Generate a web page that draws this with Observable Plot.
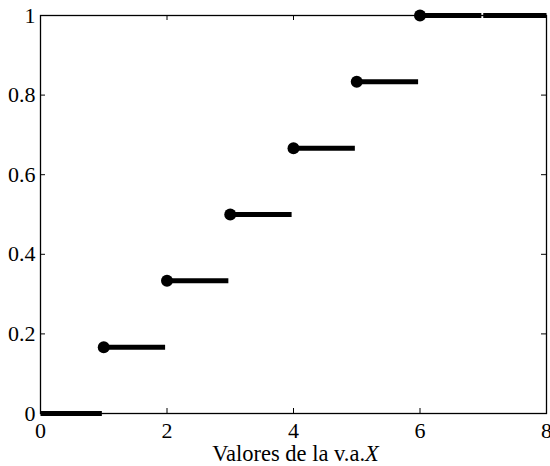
<!DOCTYPE html>
<html>
<head>
<meta charset="utf-8">
<script src="https://cdn.jsdelivr.net/npm/d3@7"></script>
<script src="https://cdn.jsdelivr.net/npm/@observablehq/plot@0.6"></script>
<style>
  html, body { margin: 0; padding: 0; background: #fff; }
  svg text, svg tspan { font-family: "Liberation Serif", "DejaVu Serif", serif !important; font-variant: normal !important; }
</style>
</head>
<body>
<div id="chart"></div>
<script>
// Step segments of the CDF
const segStart = [0, 1, 2, 3, 4, 5, 6, 7];
const segEnd   = [0.97, 1.97, 2.97, 3.97, 4.97, 5.97, 6.97, 8];
const segValue = [0, 0.1667, 0.3333, 0.5, 0.6667, 0.8333, 1, 1];
// Closed points
const dotX = [1, 2, 3, 4, 5, 6];
const dotY = [0.1667, 0.3333, 0.5, 0.6667, 0.8333, 1];
// Ticks
const xTicks = [0, 2, 4, 6, 8];
const xTickLabels = ["0", "2", "4", "6", "8"];
const yTicks = [0, 0.2, 0.4, 0.6, 0.8, 1];
const yTickLabels = ["0", "0.2", "0.4", "0.6", "0.8", "1"];
const xLabelMain = "Valores de la v.a.";
const xLabelVar = "X";

const segments = segStart.map((s, i) => ({x1: s, x2: segEnd[i], y: segValue[i]}));
const dots = dotX.map((x, i) => ({x, y: dotY[i]}));
const xTickData = xTicks.map((v, i) => ({v, label: xTickLabels[i]}));
const yTickData = yTicks.map((v, i) => ({v, label: yTickLabels[i]}));

const W = 550, H = 466;
const mL = 40, mR = 4, mT = 15, mB = 53;
const innerH = H - mT - mB, innerW = W - mL - mR;
const tickLen = 5;
const FONT = "Liberation Serif, serif";

const chart = Plot.plot({
  width: W,
  height: H,
  marginLeft: mL,
  marginRight: mR,
  marginTop: mT,
  marginBottom: mB,
  style: {fontFamily: FONT, fontSize: "22px", color: "#000", background: "#fff", overflow: "visible"},
  x: {domain: [0, 8], axis: null},
  y: {domain: [0, 1], axis: null},
  marks: [
    Plot.frame({stroke: "#000", strokeWidth: 1.3}),
    // inward ticks bottom/top
    Plot.tickX(xTicks.slice(1, -1), {stroke: "#000", strokeWidth: 1, insetTop: innerH - tickLen}),
    Plot.tickX(xTicks.slice(1, -1), {stroke: "#000", strokeWidth: 1, insetBottom: innerH - tickLen}),
    // inward ticks left/right
    Plot.tickY(yTicks.slice(1, -1), {stroke: "#000", strokeWidth: 1, insetRight: innerW - tickLen}),
    Plot.tickY(yTicks.slice(1, -1), {stroke: "#000", strokeWidth: 1, insetLeft: innerW - tickLen}),
    // tick labels
    Plot.text(xTickData, {x: "v", text: "label", frameAnchor: "bottom", dy: 17, lineAnchor: "middle",
      fontSize: 22, fontFamily: FONT, fill: "#000"}),
    Plot.text(yTickData, {y: "v", text: "label", frameAnchor: "left", dx: -5, textAnchor: "end",
      fontSize: 22, fontFamily: FONT, fill: "#000"}),
    Plot.link(segments, {x1: "x1", x2: "x2", y1: "y", y2: "y", stroke: "#000", strokeWidth: 5, strokeLinecap: "butt"}),
    Plot.dot(dots, {x: "x", y: "y", r: 6, fill: "#000", stroke: "none"}),
    Plot.text([xLabelMain], {frameAnchor: "bottom", dy: 40, dx: 2, fontSize: 22.5, fontFamily: FONT, fill: "#000", lineAnchor: "middle"})
  ]
});

// italic variable name appended to the axis label
d3.select(chart).selectAll("text")
  .filter(function() { return this.textContent === xLabelMain; })
  .each(function() {
    d3.select(this).append("tspan").attr("font-style", "italic").text(xLabelVar);
  });

document.getElementById("chart").appendChild(chart);
</script>
</body>
</html>
